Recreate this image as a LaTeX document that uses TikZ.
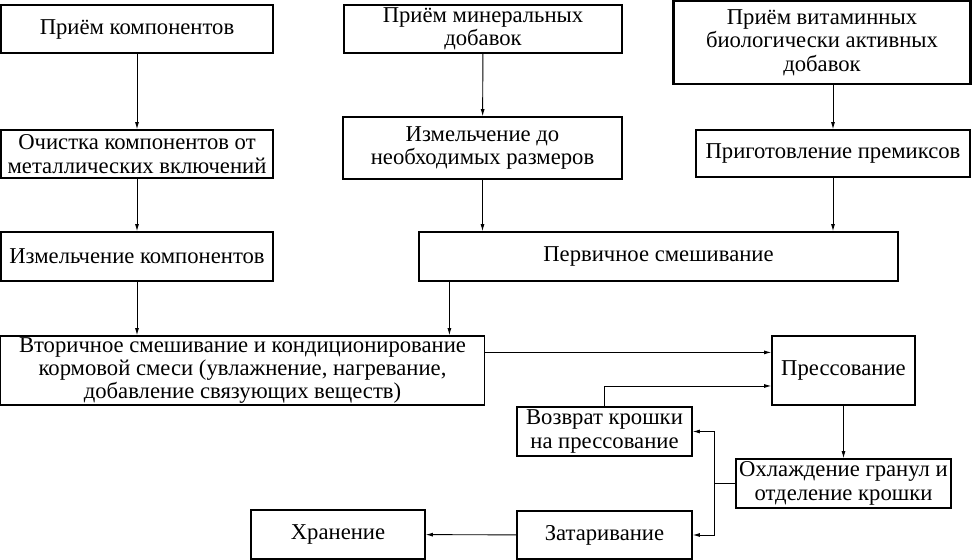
\documentclass[tikz,border=0pt]{standalone}
\usepackage{fontspec}
\setmainfont{Liberation Serif}
\usetikzlibrary{calc,arrows.meta,positioning}

\begin{document}
\begin{tikzpicture}
        [x=0.75pt, y=-0.75pt,
          every node/.style={font=\fontsize{17}{17.5}\selectfont},
          stage/.style={
            rectangle,
            draw,
            line width=0.9pt,
            align=center,
            inner sep=0pt},
          sz/.style 2 args={minimum width=#1*0.75pt, minimum height=#2*0.75pt},
          flow/.style={-{Latex[length=5.5pt,width=3pt]}, line width=0.7pt}]
        \useasboundingbox (0,0) rectangle (972,560);

        % three input lines
        \node[stage,sz={272}{48}] (komp) at (137,29) {Приём компонентов};
        \node[stage,sz={278}{48}] (miner) at (483,29) {Приём минеральных\\добавок};
        \node[stage,sz={297}{83},line width=1.6pt] (vitamin) at (822,42.5)
          {Приём витаминных\\биологически активных\\добавок};

        \node[stage,sz={272}{48}] (clean) at (137,154) {Очистка компонентов от\\металлических включений};
        \node[stage,sz={279}{62}] (grindmin) at (482.5,148) {Измельчение до\\необходимых размеров};
        \node[stage,sz={274}{47}] (premix) at (833,153.5) {Приготовление премиксов};

        \node[stage,sz={272}{49}] (grind) at (137,256.5) {Измельчение компонентов};
        \node[stage,sz={479}{49}] (mix1) at (658.5,256.5) {Первичное смешивание};

        % mixing and pressing
        \node[stage,sz={484}{69}] (mix2) at (242.5,370.5)
          {Вторичное смешивание и кондиционирование\\кормовой смеси (увлажнение, нагревание,\\добавление связующих веществ)};
        \node[stage,sz={143}{69}] (press) at (843.5,370.5) {Прессование};
        \node[stage,sz={175}{49}] (return) at (604.5,431.5) {Возврат крошки\\на прессование};
        \node[stage,sz={215}{49}] (cool) at (843.5,483.5) {Охлаждение гранул и\\отделение крошки};
        \node[stage,sz={175}{48}] (pack) at (604.5,535) {Затаривание};
        \node[stage,sz={174}{49}] (store) at (338,534.5) {Хранение};

        \draw[flow] (komp) -- (clean);
        \draw[flow] (clean) -- (grind);
        \draw[flow] (grind.south) -- (grind.south |- mix2.north);
        \draw[flow] (miner) -- (grindmin);
        \draw[flow] (grindmin.south) -- (grindmin.south |- mix1.north);
        \draw[flow] (premix.north |- vitamin.south) -- (premix.north);
        \draw[flow] (premix.south) -- (premix.south |- mix1.north);
        \draw[flow] ([xshift=23.25pt]mix1.south west) -- ([xshift=23.25pt]mix1.south west |- mix2.north);
        \draw[flow] ([yshift=-12.75pt]mix2.north east) -- ([yshift=-12.75pt]mix2.north east -| press.west);
        \draw[flow] (return.north) |- ([yshift=-11.6pt]press.west);
        \draw[flow] (press) -- (cool);
        \draw[line width=0.7pt] (cool.west) -- ++(-21,0) coordinate (bus);
        \draw[flow] (bus) |- (return.east);
        \draw[flow] (bus) |- (pack.east);
        \draw[flow] (pack) -- (store);
      \end{tikzpicture}
\end{document}
